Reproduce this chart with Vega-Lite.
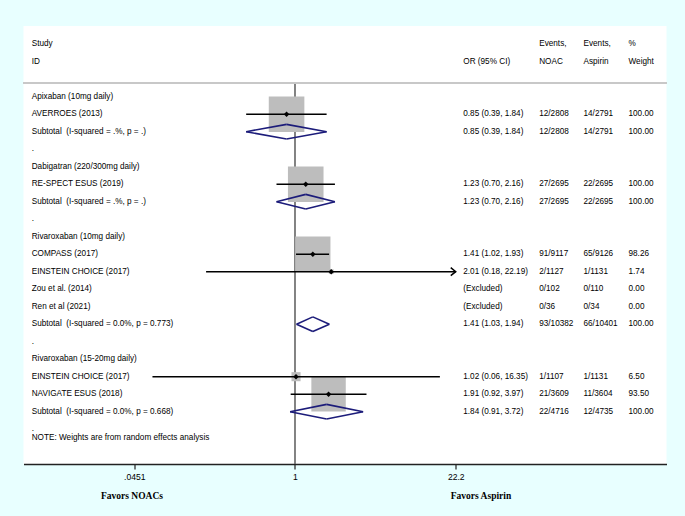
{
  "$schema": "https://vega.github.io/schema/vega-lite/v6.json",
  "width": 643,
  "height": 438,
  "autosize": {"type": "none"},
  "padding": {"left": 23.5, "top": 26, "right": 18.5, "bottom": 52},
  "background": "#e8ffff",
  "config": {
    "view": {"fill": "white", "stroke": null},
    "text": {"font": "Liberation Sans", "fontSize": 8.2, "color": "#000", "align": "left", "baseline": "middle"},
    "axisX": {"title": null},
    "axisY": {"title": null}
  },
  "datasets": {
    "rows": [
      {"row": -3, "label": "Study", "noac": "Events,", "asp": "Events,", "wtxt": "%"},
      {"row": -2, "label": "ID", "ortxt": "OR (95% CI)", "noac": "NOAC", "asp": "Aspirin", "wtxt": "Weight"},
      {"row": 0, "label": "Apixaban (10mg daily)", "kind": "group"},
      {"row": 1, "label": "AVERROES (2013)", "kind": "study", "est": 0.85, "lo": 0.39, "hi": 1.84, "w": 100, "ortxt": "0.85 (0.39, 1.84)", "noac": "12/2808", "asp": "14/2791", "wtxt": "100.00"},
      {"row": 2, "label": "Subtotal\u00a0 (I-squared = .%, p = .)", "kind": "sub", "est": 0.85, "lo": 0.39, "hi": 1.84, "ortxt": "0.85 (0.39, 1.84)", "noac": "12/2808", "asp": "14/2791", "wtxt": "100.00"},
      {"row": 3, "label": ".", "kind": "blank"},
      {"row": 4, "label": "Dabigatran (220/300mg daily)", "kind": "group"},
      {"row": 5, "label": "RE-SPECT ESUS (2019)", "kind": "study", "est": 1.23, "lo": 0.70, "hi": 2.16, "w": 100, "ortxt": "1.23 (0.70, 2.16)", "noac": "27/2695", "asp": "22/2695", "wtxt": "100.00"},
      {"row": 6, "label": "Subtotal\u00a0 (I-squared = .%, p = .)", "kind": "sub", "est": 1.23, "lo": 0.70, "hi": 2.16, "ortxt": "1.23 (0.70, 2.16)", "noac": "27/2695", "asp": "22/2695", "wtxt": "100.00"},
      {"row": 7, "label": ".", "kind": "blank"},
      {"row": 8, "label": "Rivaroxaban (10mg daily)", "kind": "group"},
      {"row": 9, "label": "COMPASS (2017)", "kind": "study", "est": 1.41, "lo": 1.02, "hi": 1.93, "w": 98.26, "ortxt": "1.41 (1.02, 1.93)", "noac": "91/9117", "asp": "65/9126", "wtxt": "98.26"},
      {"row": 10, "label": "EINSTEIN CHOICE (2017)", "kind": "study", "est": 2.01, "lo": 0.18, "hi": 22.19, "w": 1.74, "ortxt": "2.01 (0.18, 22.19)", "noac": "2/1127", "asp": "1/1131", "wtxt": "1.74"},
      {"row": 11, "label": "Zou et al. (2014)", "kind": "excluded", "w": 0, "ortxt": "(Excluded)", "noac": "0/102", "asp": "0/110", "wtxt": "0.00"},
      {"row": 12, "label": "Ren et al (2021)", "kind": "excluded", "w": 0, "ortxt": "(Excluded)", "noac": "0/36", "asp": "0/34", "wtxt": "0.00"},
      {"row": 13, "label": "Subtotal\u00a0 (I-squared = 0.0%, p = 0.773)", "kind": "sub", "est": 1.41, "lo": 1.03, "hi": 1.94, "ortxt": "1.41 (1.03, 1.94)", "noac": "93/10382", "asp": "66/10401", "wtxt": "100.00"},
      {"row": 14, "label": ".", "kind": "blank"},
      {"row": 15, "label": "Rivaroxaban (15-20mg daily)", "kind": "group"},
      {"row": 16, "label": "EINSTEIN CHOICE (2017)", "kind": "study", "est": 1.02, "lo": 0.064, "hi": 16.35, "w": 6.50, "ortxt": "1.02 (0.06, 16.35)", "noac": "1/1107", "asp": "1/1131", "wtxt": "6.50"},
      {"row": 17, "label": "NAVIGATE ESUS (2018)", "kind": "study", "est": 1.91, "lo": 0.92, "hi": 3.97, "w": 93.50, "ortxt": "1.91 (0.92, 3.97)", "noac": "21/3609", "asp": "11/3604", "wtxt": "93.50"},
      {"row": 18, "label": "Subtotal\u00a0 (I-squared = 0.0%, p = 0.668)", "kind": "sub", "est": 1.84, "lo": 0.91, "hi": 3.72, "ortxt": "1.84 (0.91, 3.72)", "noac": "22/4716", "asp": "12/4735", "wtxt": "100.00"},
      {"row": 19, "label": ".", "kind": "blank"},
      {"row": 19.5, "label": "NOTE: Weights are from random effects analysis", "kind": "note"}
    ],
    "refline": [
      {"ref": 1, "top": -0.77, "bottom": 20.99}
    ],
    "favors": [
      {"side": "noac", "text": "Favors NOACs"},
      {"side": "aspirin", "text": "Favors Aspirin"}
    ]
  },
  "data": {"name": "rows"},
  "layer": [
    {
      "data": {"name": "refline"},
      "mark": {"type": "rule", "color": "#5a5a5a", "strokeWidth": 1.5},
      "encoding": {
        "x": {
          "field": "ref", "type": "quantitative", "title": null,
          "scale": {"type": "log", "domain": [0.005322, 1292.7], "nice": false, "zero": false},
          "axis": {
            "values": [0.0451, 1, 22.2],
            "labelExpr": "datum.value < 0.1 ? '.0451' : datum.value > 10 ? '22.2' : '1'",
            "grid": false, "title": null,
            "domainColor": "#222", "domainWidth": 1.5,
            "tickColor": "#222", "tickSize": 5, "tickWidth": 1.2,
            "labelFont": "Liberation Sans", "labelFontSize": 8.6, "labelColor": "#000",
            "labelPadding": 3.5, "labelFlush": false, "labelOverlap": false
          }
        },
        "y": {"field": "top", "type": "quantitative", "title": null, "scale": {"domain": [-4.04, 20.99], "reverse": true, "nice": false, "zero": false}, "axis": null},
        "y2": {"field": "bottom"}
      }
    },
    {
      "mark": {"type": "rule", "color": "#c8c8c8", "strokeWidth": 1.5},
      "encoding": {
        "y": {"datum": -0.77, "type": "quantitative", "title": null}
      }
    },
    {
      "transform": [{"filter": "datum.kind == 'study' && datum.w > 0"}],
      "mark": {"type": "square", "color": "#bdbdbd", "opacity": 1, "filled": true},
      "encoding": {
        "x": {"field": "est", "type": "quantitative", "title": null},
        "y": {"field": "row", "type": "quantitative", "title": null},
        "size": {"field": "w", "type": "quantitative", "scale": {"domain": [0, 100], "range": [0, 1267]}, "legend": null}
      }
    },
    {
      "transform": [{"filter": "datum.kind == 'study' && isValid(datum.est)"}],
      "mark": {"type": "rule", "color": "#000", "strokeWidth": 1.5},
      "encoding": {
        "x": {"field": "lo", "type": "quantitative", "title": null},
        "x2": {"field": "hi"},
        "y": {"field": "row", "type": "quantitative", "title": null}
      }
    },
    {
      "transform": [{"filter": "datum.kind == 'study' && datum.hi > 20"}],
      "mark": {"type": "point", "shape": "M-1,-0.8L0,0L-1,0.8", "filled": false, "stroke": "#000", "strokeWidth": 1.5, "size": 100, "opacity": 1},
      "encoding": {
        "x": {"field": "hi", "type": "quantitative", "title": null},
        "y": {"field": "row", "type": "quantitative", "title": null}
      }
    },
    {
      "transform": [{"filter": "datum.kind == 'study' && isValid(datum.est)"}],
      "mark": {"type": "point", "shape": "diamond", "filled": true, "color": "#000", "size": 30, "opacity": 1},
      "encoding": {
        "x": {"field": "est", "type": "quantitative", "title": null},
        "y": {"field": "row", "type": "quantitative", "title": null}
      }
    },
    {
      "transform": [{"filter": "datum.kind == 'sub'"}],
      "mark": {"type": "rule", "color": "#1c1c7a", "strokeWidth": 1.6, "y2Offset": -7.3},
      "encoding": {
        "x": {"field": "lo", "type": "quantitative", "title": null},
        "x2": {"field": "est"},
        "y": {"field": "row", "type": "quantitative", "title": null},
        "y2": {"field": "row"}
      }
    },
    {
      "transform": [{"filter": "datum.kind == 'sub'"}],
      "mark": {"type": "rule", "color": "#1c1c7a", "strokeWidth": 1.6, "y2Offset": 7.3},
      "encoding": {
        "x": {"field": "lo", "type": "quantitative", "title": null},
        "x2": {"field": "est"},
        "y": {"field": "row", "type": "quantitative", "title": null},
        "y2": {"field": "row"}
      }
    },
    {
      "transform": [{"filter": "datum.kind == 'sub'"}],
      "mark": {"type": "rule", "color": "#1c1c7a", "strokeWidth": 1.6, "yOffset": -7.3},
      "encoding": {
        "x": {"field": "est", "type": "quantitative", "title": null},
        "x2": {"field": "hi"},
        "y": {"field": "row", "type": "quantitative", "title": null},
        "y2": {"field": "row"}
      }
    },
    {
      "transform": [{"filter": "datum.kind == 'sub'"}],
      "mark": {"type": "rule", "color": "#1c1c7a", "strokeWidth": 1.6, "yOffset": 7.3},
      "encoding": {
        "x": {"field": "est", "type": "quantitative", "title": null},
        "x2": {"field": "hi"},
        "y": {"field": "row", "type": "quantitative", "title": null},
        "y2": {"field": "row"}
      }
    },
    {
      "transform": [{"filter": "isValid(datum.label)"}],
      "mark": {"type": "text"},
      "encoding": {
        "x": {"datum": 0.006234, "type": "quantitative", "title": null},
        "y": {"field": "row", "type": "quantitative", "title": null},
        "text": {"field": "label"}
      }
    },
    {
      "transform": [{"filter": "isValid(datum.ortxt)"}],
      "mark": {"type": "text"},
      "encoding": {
        "x": {"datum": 25.67, "type": "quantitative", "title": null},
        "y": {"field": "row", "type": "quantitative", "title": null},
        "text": {"field": "ortxt"}
      }
    },
    {
      "transform": [{"filter": "isValid(datum.noac)"}],
      "mark": {"type": "text"},
      "encoding": {
        "x": {"datum": 110.98, "type": "quantitative", "title": null},
        "y": {"field": "row", "type": "quantitative", "title": null},
        "text": {"field": "noac"}
      }
    },
    {
      "transform": [{"filter": "isValid(datum.asp)"}],
      "mark": {"type": "text"},
      "encoding": {
        "x": {"datum": 260.8, "type": "quantitative", "title": null},
        "y": {"field": "row", "type": "quantitative", "title": null},
        "text": {"field": "asp"}
      }
    },
    {
      "transform": [{"filter": "isValid(datum.wtxt)"}],
      "mark": {"type": "text"},
      "encoding": {
        "x": {"datum": 621.2, "type": "quantitative", "title": null},
        "y": {"field": "row", "type": "quantitative", "title": null},
        "text": {"field": "wtxt"}
      }
    },
    {
      "data": {"name": "favors"},
      "transform": [{"filter": "datum.side == 'noac'"}],
      "mark": {"type": "text", "font": "Liberation Serif", "fontWeight": "bold", "fontSize": 9.5, "align": "center"},
      "encoding": {
        "x": {"datum": 0.04313, "type": "quantitative", "title": null},
        "y": {"datum": 22.82, "type": "quantitative", "title": null},
        "text": {"field": "text"}
      }
    },
    {
      "data": {"name": "favors"},
      "transform": [{"filter": "datum.side == 'aspirin'"}],
      "mark": {"type": "text", "font": "Liberation Serif", "fontWeight": "bold", "fontSize": 9.5, "align": "center"},
      "encoding": {
        "x": {"datum": 36.13, "type": "quantitative", "title": null},
        "y": {"datum": 22.82, "type": "quantitative", "title": null},
        "text": {"field": "text"}
      }
    }
  ]
}
